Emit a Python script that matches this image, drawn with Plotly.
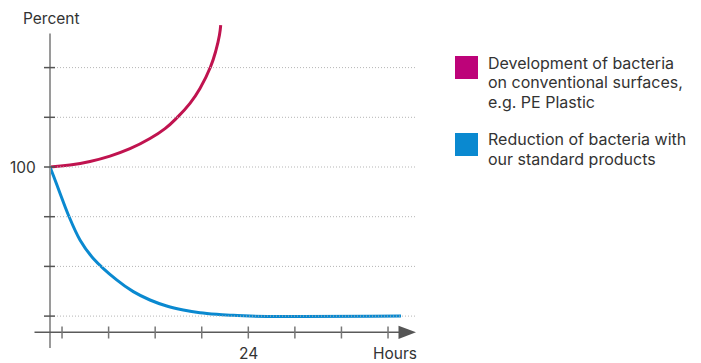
import plotly.graph_objects as go

# ---- data (hours, percent) ----
growth_hours = [0, 2.42, 4.84, 7.26, 9.68, 12.10, 13.92, 15.37, 16.94, 18.15, 19.42, 20.09, 20.51, 20.66]
growth_pct = [100, 101.0, 102.8, 105.5, 109.2, 114.3, 119.3, 124.8, 132.0, 139.5, 150.3, 158.8, 166.4, 171.4]

reduction_hours = [0, 0.61, 1.21, 2.21, 3.63, 5.24, 8.07, 10.08, 12.10, 14.12, 16.13, 18.15, 20.17, 22.18, 24.2, 42.48]
reduction_pct = [100, 93.5, 86.8, 76.0, 63.3, 54.0, 43.2, 37.3, 33.1, 30.1, 28.1, 26.7, 25.9, 25.4, 25, 25]

y_ticks = [25, 50, 75, 100, 125, 150]
y_tick_label = {100: "100"}
x_tick_step = 5.636
x_tick_count = 8
x_labeled_tick = 24
x_ticks = [x_labeled_tick + (i - 4) * x_tick_step for i in range(x_tick_count)]

legend_lines = [["Development of bacteria", "on conventional surfaces,", "e.g. PE Plastic"],
                ["Reduction of bacteria with", "our standard products"]]

RED = "#c0134f"
MAGENTA = "#bd0379"
BLUE = "#0a89d0"
TXT = "#333333"
FONT = "Inter"

PAGE_OFF = 8          # browser body margin
W, H = 701 - PAGE_OFF, 363 - PAGE_OFF
px_per_h = 8.263
px_per_pct = 1.988
x0_px, y100_px = 50, 167   # page pixel positions of origin / 100 %


def h_of(px):
    return (px - x0_px) / px_per_h


def p_of(py):
    return 100 + (y100_px - py) / px_per_pct


def xp(px):
    return (px - PAGE_OFF) / W


def yp(py):
    return 1 - (py - PAGE_OFF) / H


x_range = [h_of(PAGE_OFF), h_of(PAGE_OFF + W)]
y_range = [p_of(PAGE_OFF + H), p_of(PAGE_OFF)]

fig = go.Figure()

shapes = []
for v in y_ticks:
    shapes.append(dict(type="line", xref="x", yref="y", x0=h_of(57), x1=h_of(417), y0=v, y1=v,
                       line=dict(color="#b5b5b5", width=1, dash="1px,2px")))
shapes.append(dict(type="line", xref="x", yref="y", x0=0, x1=0, y0=p_of(348), y1=p_of(33.5),
                   line=dict(color="#9a9a9a", width=2)))
for v in y_ticks:
    shapes.append(dict(type="line", xref="x", yref="y", x0=h_of(44), x1=h_of(55), y0=v, y1=v,
                       line=dict(color="#555555", width=1.5)))
shapes.append(dict(type="line", xref="x", yref="y", x0=h_of(34.5), x1=h_of(400), y0=p_of(332.3), y1=p_of(332.3),
                   line=dict(color="#5a5a5a", width=1.5)))
for t in x_ticks:
    shapes.append(dict(type="line", xref="x", yref="y", x0=t, x1=t, y0=p_of(326.5), y1=p_of(338.5),
                       line=dict(color="#777777", width=1.5)))
ax0, ax1 = h_of(398.5), h_of(416)
shapes.append(dict(type="path", xref="x", yref="y",
                   path=f"M {ax0},{p_of(325.7)} L {ax1},{p_of(332.3)} L {ax0},{p_of(338.9)} Z",
                   fillcolor="#555555", line=dict(width=0)))
shapes.append(dict(type="rect", xref="paper", yref="paper", x0=xp(455), x1=xp(478),
                   y0=yp(79), y1=yp(56), fillcolor=MAGENTA, line=dict(width=0)))
shapes.append(dict(type="rect", xref="paper", yref="paper", x0=xp(455), x1=xp(478),
                   y0=yp(156), y1=yp(133), fillcolor=BLUE, line=dict(width=0)))

fig.add_trace(go.Scatter(x=growth_hours, y=growth_pct, mode="lines",
                         line=dict(color=RED, width=3, shape="spline", smoothing=1.3),
                         hoverinfo="skip", showlegend=False))
fig.add_trace(go.Scatter(x=reduction_hours, y=reduction_pct, mode="lines",
                         line=dict(color=BLUE, width=3, shape="spline", smoothing=1.0),
                         hoverinfo="skip", showlegend=False))

small = dict(family=FONT, size=15.5, color=TXT)
ann = []
ann.append(dict(text="Percent", xref="paper", yref="paper", x=xp(51), y=yp(19),
                xanchor="center", yanchor="middle", showarrow=False, font=small))
for v, lab in y_tick_label.items():
    ann.append(dict(text=lab, xref="paper", yref="y", x=xp(37.5), y=v,
                    xanchor="right", yanchor="middle", showarrow=False, font=small))
ann.append(dict(text=str(x_labeled_tick), xref="x", yref="paper", x=x_labeled_tick, y=yp(353),
                xanchor="center", yanchor="middle", showarrow=False, font=small))
ann.append(dict(text="Hours", xref="paper", yref="paper", x=xp(395), y=yp(353),
                xanchor="center", yanchor="middle", showarrow=False, font=small))

leg_font = dict(family=FONT, size=16, color=TXT)
for block, y_start in zip(legend_lines, [62.7, 139.3]):
    for i, line in enumerate(block):
        ann.append(dict(text=line, xref="paper", yref="paper", x=xp(486), y=yp(y_start + i * 19.5),
                        xanchor="left", yanchor="middle", showarrow=False, font=leg_font))

fig.update_layout(
    width=W, height=H, margin=dict(l=0, r=0, t=0, b=0),
    paper_bgcolor="white", plot_bgcolor="white",
    xaxis=dict(range=x_range, visible=False, fixedrange=True),
    yaxis=dict(range=y_range, visible=False, fixedrange=True),
    shapes=shapes, annotations=ann, showlegend=False,
)
fig.write_html("out.html")
